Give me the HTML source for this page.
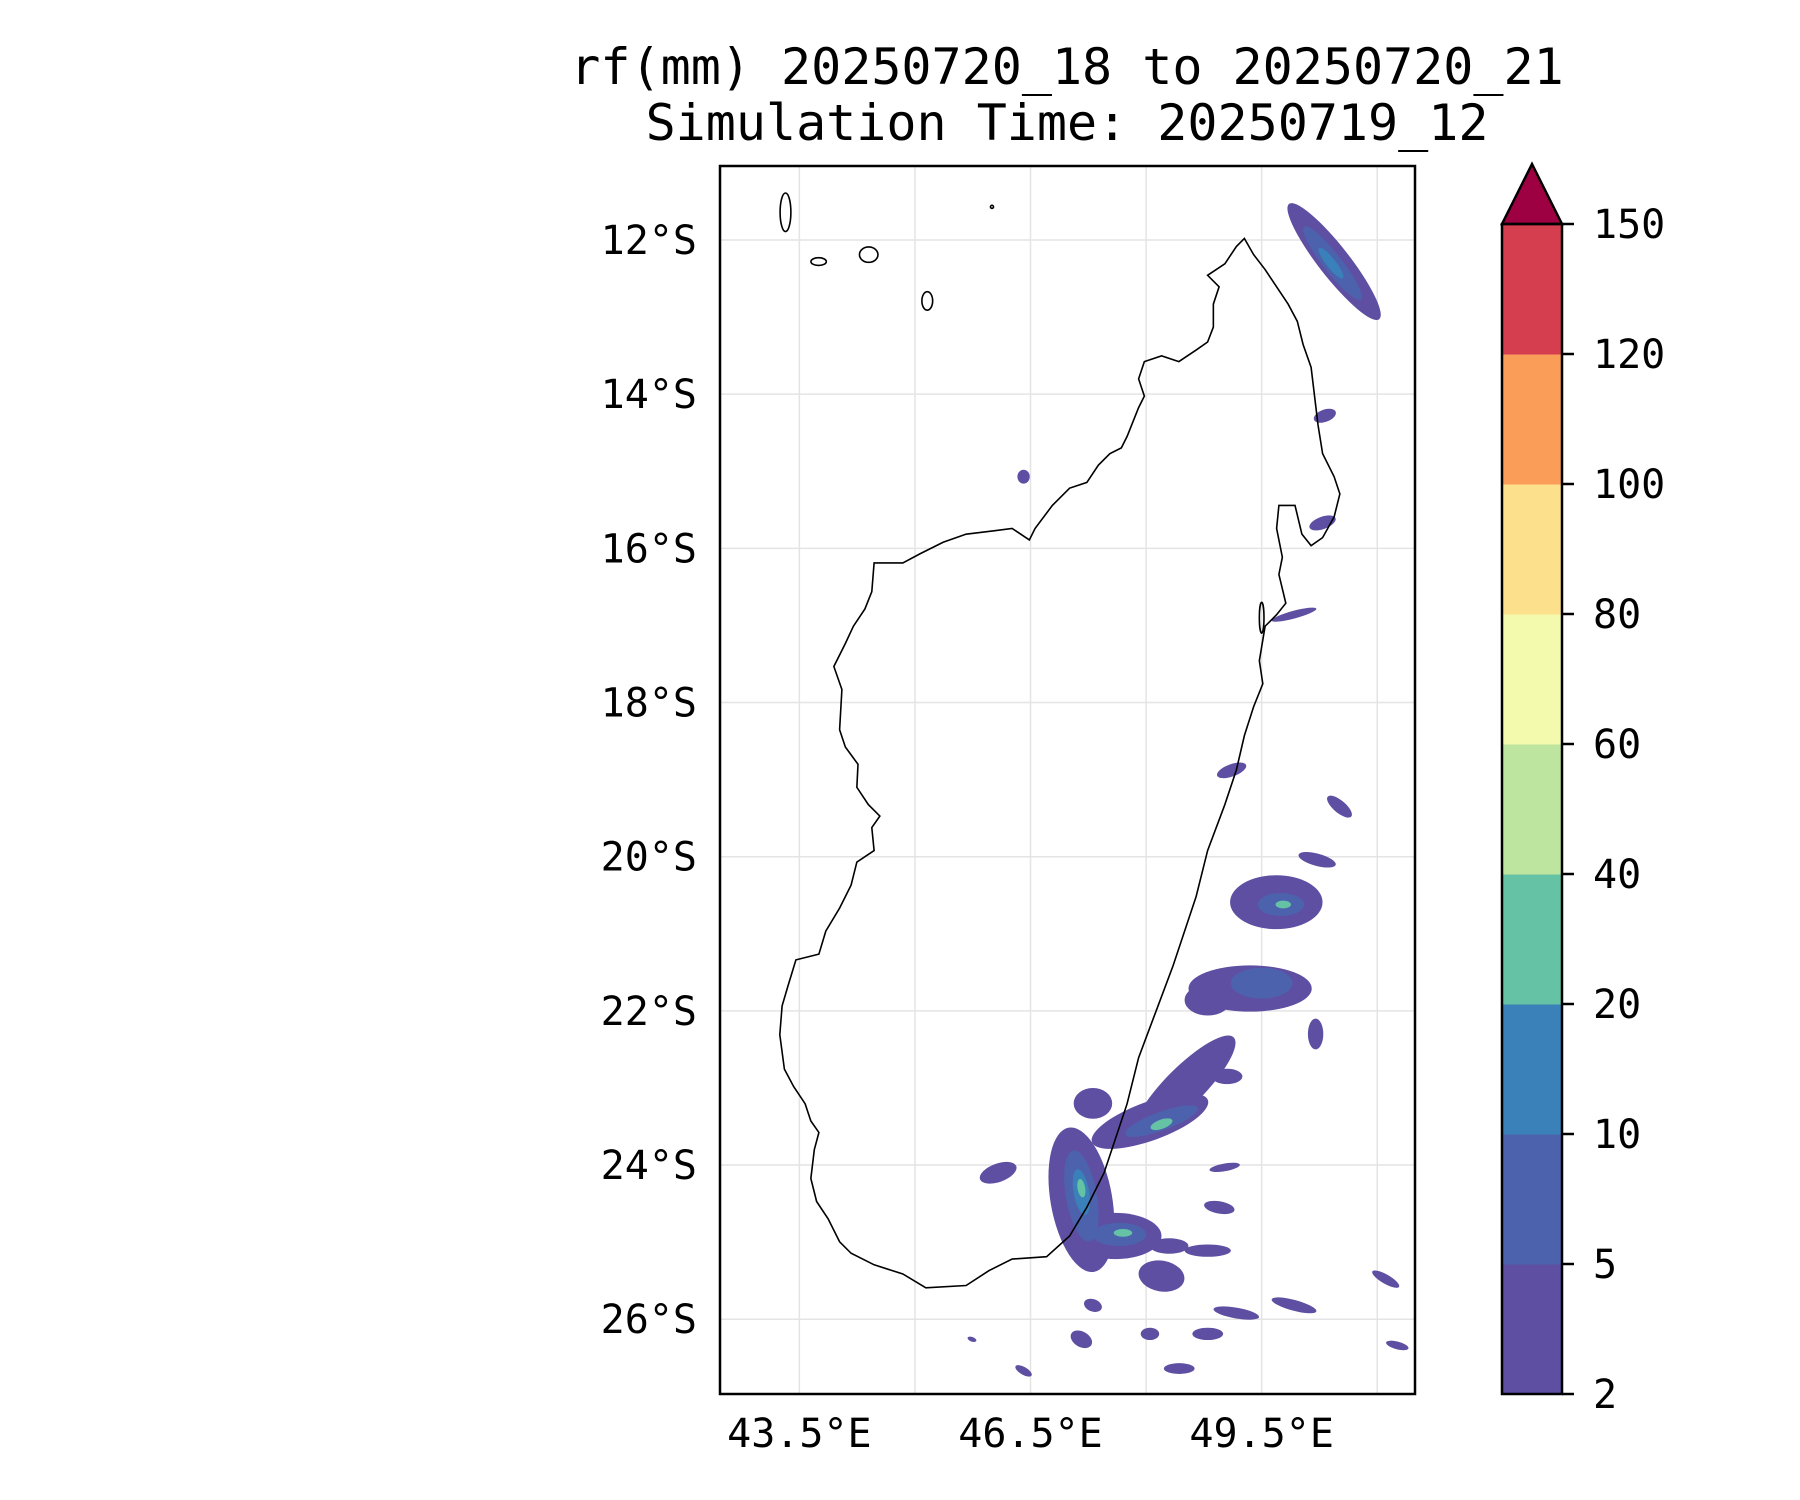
<!DOCTYPE html>
<html><head><meta charset="utf-8"><style>
body{margin:0;background:#fff}
svg{display:block}
text{font-family:"DejaVu Sans Mono","Liberation Mono",monospace;fill:#000}
</style></head><body>
<svg id="c" width="1800" height="1500" xmlns="http://www.w3.org/2000/svg">
<text x="1067" y="84" font-size="50" text-anchor="middle">rf(mm) 20250720_18 to 20250720_21</text>
<text x="1067" y="140" font-size="50" text-anchor="middle">Simulation Time: 20250719_12</text>
<defs><clipPath id="clip"><rect x="720" y="166" width="695" height="1228"/></clipPath></defs>
<g id="grid"></g>
<g id="rain" clip-path="url(#clip)"></g>
<g id="coast" clip-path="url(#clip)"></g>
<rect x="720" y="166" width="695" height="1228" fill="none" stroke="#000" stroke-width="2.5"/>
<g id="axes"></g>
<g id="cbar"></g>
</svg>
<script>
const lonMin=42.47, lonMax=51.49, latMin=11.04, latMax=26.97;
const xTicks=[43.5,46.5,49.5];
const xTickLabels=["43.5°E","46.5°E","49.5°E"];
const yTicks=[12,14,16,18,20,22,24,26];
const yTickLabels=["12°S","14°S","16°S","18°S","20°S","22°S","24°S","26°S"];
const levels=[2,5,10,20,40,60,80,100,120,150];
const levelColors=["#5e4fa2","#4d62ad","#3a81b9","#66c2a5","#bee5a0","#f3faad","#fde08b","#f99d59","#d53e4f"];
const extendColor="#9e0142";
// rain cells: lon, lat(S), rx(deg), ry(deg), angle(deg), level index
const rainLon=[50.44,50.42,50.40,50.32,46.41,50.29,49.92,49.11,50.51,50.22,49.69,49.75,49.78,49.35,49.5,48.8,48.5,48.05,48.2,48.2,49.05,47.31,47.16,47.16,47.16,47.16,47.6,47.65,47.7,46.08,48.95,49.02,48.2,47.31,48.05,48.8,49.17,49.92,48.43,47.16,46.41,51.11,51.26,45.74,48.8,50.2,48.3];
const rainLat=[12.28,12.3,12.3,14.28,15.07,15.67,16.86,18.88,19.35,20.04,20.59,20.62,20.62,21.71,21.64,21.86,22.98,23.43,23.43,23.47,22.85,23.2,24.45,24.4,24.35,24.3,24.92,24.9,24.88,24.1,24.55,24.03,25.44,25.82,26.19,26.19,25.92,25.82,26.64,26.26,26.67,25.48,26.34,26.26,25.11,22.3,25.05];
const rainRx=[0.95,0.6,0.25,0.08,0.08,0.08,0.05,0.08,0.2,0.25,0.6,0.3,0.1,0.8,0.4,0.3,0.9,0.8,0.5,0.15,0.2,0.25,0.95,0.6,0.3,0.12,0.6,0.35,0.12,0.25,0.2,0.2,0.3,0.12,0.12,0.2,0.3,0.3,0.2,0.15,0.12,0.2,0.15,0.06,0.3,0.1,0.25];
const rainRy=[0.2,0.12,0.06,0.15,0.09,0.18,0.3,0.2,0.08,0.08,0.35,0.15,0.05,0.3,0.2,0.2,0.25,0.25,0.12,0.06,0.1,0.2,0.4,0.2,0.1,0.05,0.3,0.15,0.05,0.12,0.08,0.05,0.2,0.08,0.08,0.08,0.07,0.07,0.07,0.1,0.05,0.06,0.05,0.03,0.08,0.2,0.1];
const rainAng=[52,52,52,70,0,70,75,70,40,15,0,0,0,0,0,0,-45,-20,-20,-20,0,0,80,80,80,80,0,0,0,-20,10,-10,10,20,0,0,10,15,0,30,30,30,15,20,0,0,0];
const rainLvl=[0,1,2,0,0,0,0,0,0,0,0,1,3,0,1,0,0,0,1,3,0,0,0,1,2,3,0,1,3,0,0,0,0,0,0,0,0,0,0,0,0,0,0,0,0,0,0];
// coastline traced in reference frame units (converted to lon/lat below)
const coastRef=[[1082,208],[1090,222],[1100,235],[1110,250],[1120,265],[1128,280],[1133,300],[1140,320],[1143,345],[1146,370],[1150,395],[1160,415],[1165,430],[1160,450],[1150,468],[1140,475],[1132,465],[1126,440],[1112,440],[1110,460],[1115,485],[1112,500],[1118,525],[1110,535],[1100,545],[1095,575],[1098,595],[1090,615],[1082,640],[1075,670],[1065,700],[1050,740],[1040,780],[1030,810],[1020,840],[1005,880],[990,920],[980,960],[970,990],[960,1020],[945,1050],[930,1075],[910,1093],[880,1095],[860,1105],[840,1118],[805,1120],[785,1108],[760,1100],[740,1090],[730,1080],[720,1060],[710,1045],[705,1025],[708,1000],[712,985],[705,975],[700,960],[690,945],[682,930],[678,900],[680,875],[685,858],[692,835],[712,830],[718,810],[730,790],[740,770],[745,750],[760,740],[758,720],[765,710],[755,700],[745,685],[746,665],[735,650],[730,635],[732,600],[725,580],[735,560],[742,545],[752,530],[758,515],[760,490],[785,490],[800,482],[820,472],[840,465],[865,462],[880,460],[895,470],[900,460],[915,440],[930,425],[945,420],[955,405],[965,395],[975,390],[980,380],[990,355],[995,345],[990,330],[995,315],[1010,310],[1025,315],[1040,305],[1050,298],[1055,285],[1055,265],[1060,250],[1050,240],[1065,230],[1075,215],[1082,208]];
const islandLon=[43.32,43.75,44.4,45.16,46.0,49.5];
const islandLat=[11.64,12.28,12.19,12.79,11.57,16.9];
const islandRx=[0.07,0.1,0.12,0.07,0.02,0.03];
const islandRy=[0.25,0.05,0.1,0.12,0.02,0.2];

const NS="http://www.w3.org/2000/svg";
const X0=720,X1=1415,Y0=166,Y1=1394;
function xs(lon){return X0+(lon-lonMin)/(lonMax-lonMin)*(X1-X0);}
function ys(lat){return Y0+(lat-latMin)/(latMax-latMin)*(Y1-Y0);}
function mk(tag,attrs,parent){const e=document.createElementNS(NS,tag);for(const k in attrs)e.setAttribute(k,attrs[k]);document.getElementById(parent).appendChild(e);return e;}
const pxPerDeg=(X1-X0)/(lonMax-lonMin);

for(let lon=42;lon<=52;lon+=1.5){if(lon<lonMin||lon>lonMax)continue;const l=mk('line',{x1:xs(lon),x2:xs(lon),y1:Y0,y2:Y1,stroke:'#e4e4e4','stroke-width':1.5},'grid');

}
yTicks.forEach(v=>{const l=mk('line',{x1:X0,x2:X1,y1:ys(v),y2:ys(v),stroke:'#e4e4e4','stroke-width':1.5},'grid');

});

const order=rainLvl.map((v,i)=>i).sort((a,b)=>rainLvl[a]-rainLvl[b]);
order.forEach(i=>{const e=mk('ellipse',{cx:xs(rainLon[i]),cy:ys(rainLat[i]),rx:rainRx[i]*pxPerDeg,ry:rainRy[i]*pxPerDeg,fill:levelColors[rainLvl[i]],transform:`rotate(${rainAng[i]} ${xs(rainLon[i])} ${ys(rainLat[i])})`},'rain');

});

const coastLL=coastRef.map(p=>[42.47+(p[0]-626)/67,11.04+(p[1]-145)/67]);
const cp=mk('polygon',{points:coastLL.map(p=>xs(p[0])+','+ys(p[1])).join(' '),fill:'none',stroke:'#000','stroke-width':1.6},'coast');


islandLon.forEach((v,i)=>{const e=mk('ellipse',{cx:xs(v),cy:ys(islandLat[i]),rx:islandRx[i]*pxPerDeg,ry:islandRy[i]*pxPerDeg,fill:'none',stroke:'#000','stroke-width':1.6},'coast');

});

xTicks.forEach((v,i)=>{const t=mk('text',{x:xs(v),y:1447,'font-size':40,'text-anchor':'middle'},'axes');t.textContent=xTickLabels[i];

});
yTicks.forEach((v,i)=>{const t=mk('text',{x:697,y:ys(v)+14,'font-size':40,'text-anchor':'end'},'axes');t.textContent=yTickLabels[i];

});

const CX0=1502,CX1=1562,CY0=224,CY1=1394;
const seg=(CY1-CY0)/(levels.length-1);
for(let i=0;i<levels.length-1;i++){const r=mk('rect',{x:CX0,y:CY1-(i+1)*seg,width:CX1-CX0,height:seg+0.5,fill:levelColors[i]},'cbar');

}
const tri=mk('polygon',{points:`${CX0},${CY0} ${CX1},${CY0} ${(CX0+CX1)/2},164`,fill:extendColor,stroke:'#000','stroke-width':2.5},'cbar');


const fr=mk('rect',{x:CX0,y:CY0,width:CX1-CX0,height:CY1-CY0,fill:'none',stroke:'#000','stroke-width':2.5},'cbar');


levels.forEach((v,i)=>{const y=CY1-i*seg;mk('line',{x1:CX1,x2:CX1+12,y1:y,y2:y,stroke:'#000','stroke-width':2.5},'cbar');
const t=mk('text',{x:1593,y:y+14,'font-size':40},'cbar');t.textContent=v;

});
</script>
</body></html>
